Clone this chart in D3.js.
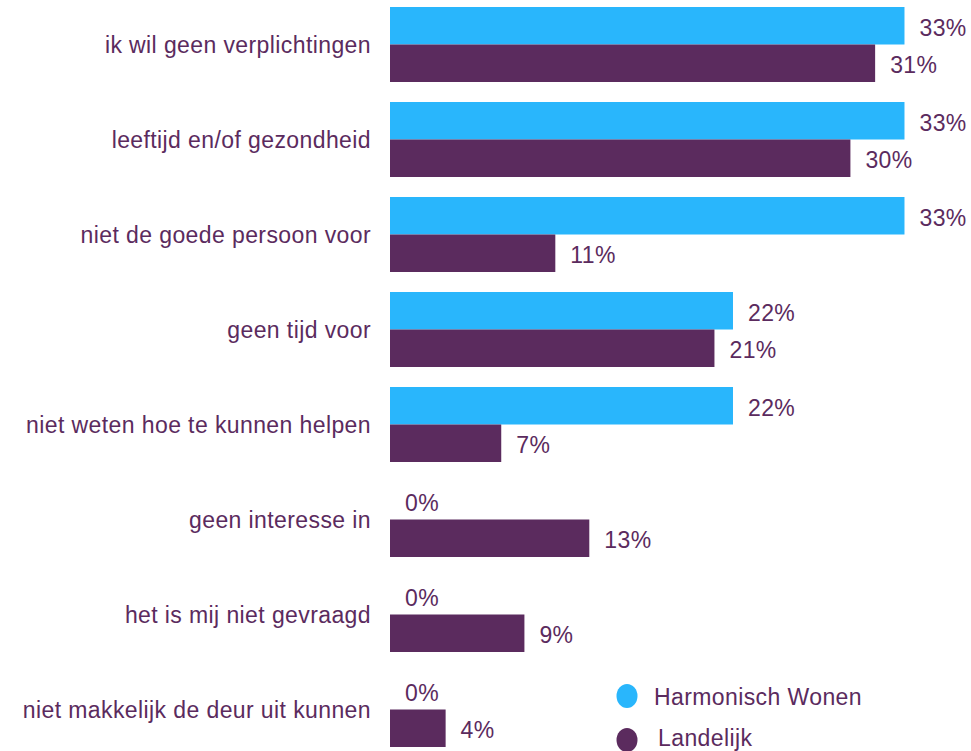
<!DOCTYPE html>
<html>
<head>
<meta charset="utf-8">
<script src="https://cdn.jsdelivr.net/npm/d3@7"></script>
<style>
    html, body { margin: 0; padding: 0; background: #fff; }
    svg { display: block; font-family: "Liberation Sans", Arial, sans-serif; }
    text { font-size: 23px; letter-spacing: 0.4px; }
</style>
</head>
<body>
<svg id="chart" width="971" height="751"></svg>
<script>
// redenen om niet te helpen
const categories = [
    "ik wil geen verplichtingen",
    "leeftijd en/of gezondheid",
    "niet de goede persoon voor",
    "geen tijd voor",
    "niet weten hoe te kunnen helpen",
    "geen interesse in",
    "het is mij niet gevraagd",
    "niet makkelijk de deur uit kunnen"
];
const seriesNames = ["Harmonisch Wonen", "Landelijk"];
const harmonisch = [0.333, 0.333, 0.333, 0.222, 0.222, 0, 0, 0];
const landelijk = [0.314, 0.298, 0.107, 0.210, 0.072, 0.129, 0.087, 0.036];
const colors = ["#29b6fc", "#5b2b5e"];
const textColor = "#5b2b5e";

const rows = categories.map((c, i) => ({
    category: c,
    values: [harmonisch[i], landelijk[i]]
}));

const svg = d3.select("#chart");

const x = d3.scaleLinear()
    .domain([0, 0.35])
    .range([390, 390 + 0.35 * 1545]);

const y = d3.scaleBand()
    .domain(categories)
    .range([-3, 757])
    .paddingInner(20 / 95)
    .paddingOuter(10 / 95);

const ySub = d3.scaleBand()
    .domain(seriesNames)
    .range([0, y.bandwidth()]);

const fmt = d3.format(".0%");

const groups = svg.selectAll("g.group")
    .data(rows)
    .join("g")
    .attr("class", "group")
    .attr("transform", d => "translate(0," + y(d.category) + ")");

groups.append("text")
    .attr("x", 371)
    .attr("y", y.bandwidth() / 2)
    .attr("dy", "0.38em")
    .attr("text-anchor", "end")
    .attr("fill", textColor)
    .text(d => d.category);

const bars = groups.selectAll("g.bar")
    .data(d => d.values.map((v, i) => ({series: seriesNames[i], value: v, i: i})))
    .join("g")
    .attr("class", "bar");

bars.append("rect")
    .attr("x", x(0))
    .attr("y", d => ySub(d.series))
    .attr("width", d => x(d.value) - x(0))
    .attr("height", ySub.bandwidth())
    .attr("fill", d => colors[d.i]);

bars.append("text")
    .attr("x", d => x(d.value) + 15)
    .attr("y", d => ySub(d.series) + ySub.bandwidth() / 2)
    .attr("dy", "0.43em")
    .attr("fill", textColor)
    .text(d => fmt(d.value));

// legend
const legend = svg.append("g")
    .selectAll("g")
    .data(seriesNames)
    .join("g")
    .attr("transform", (d, i) => "translate(627," + (696 + i * 44) + ")");

legend.append("ellipse")
    .attr("rx", 10.5)
    .attr("ry", 12)
    .attr("fill", (d, i) => colors[i]);

legend.append("text")
    .attr("x", (d, i) => i === 0 ? 27 : 31)
    .attr("y", (d, i) => i === 0 ? 9 : 6)
    .attr("fill", textColor)
    .text(d => d);
</script>
</body>
</html>
